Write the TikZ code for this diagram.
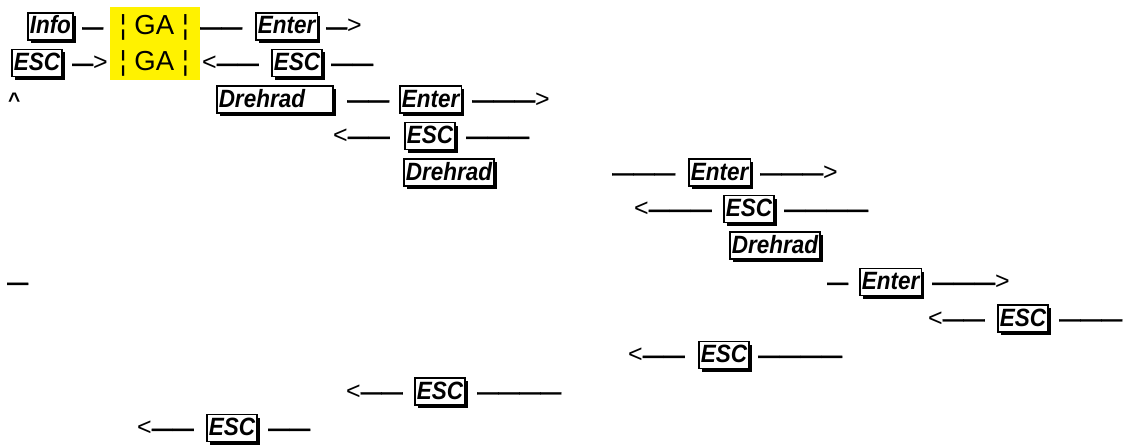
\documentclass[tikz,border=0pt]{standalone}
\usepackage{fontspec}
\setmainfont{Liberation Sans}
\newfontfamily\keyfont[FakeStretch=0.9]{Liberation Sans}
\newfontfamily\dashfont[FakeBold=1.5]{Liberation Sans Bold}
\newcommand\gtsym{{\fontsize{25}{28}\selectfont >}}
\newcommand\ltsym{{\fontsize{25}{28}\selectfont <}}
\usetikzlibrary{shadows}
\begin{document}
\begin{tikzpicture}[x=1pt,y=-1pt,
  keybox/.style={draw, line width=1.5pt, fill=white,
    font=\fontsize{25}{28}\keyfont\bfseries\itshape,
    inner xsep=2pt, inner ysep=2pt, text height=19pt, text depth=4pt,
    anchor=base west,
    drop shadow={shadow xshift=3pt, shadow yshift=-3pt, fill=black, opacity=1}},
  dashtxt/.style={font=\fontsize{21}{24}\selectfont, inner sep=0pt, anchor=base west},
  gatxt/.style={font=\fontsize{27.5}{30}\selectfont, inner sep=0pt, anchor=base west}]
\useasboundingbox (0,0) rectangle (1131,444);
% yellow GA block
\node[fill=yellow, minimum width=90pt, minimum height=73pt, inner sep=0pt, anchor=north west] (gabox) at (110,7) {};
\node[gatxt] (ga1) at (119.5,35) {¦ GA ¦};
\node[gatxt] (ga2) at (119.5,70.5) {¦ GA ¦};
% row 1
\node[keybox] (info) at (27,34) {Info};
\node[dashtxt] (d1a) at (82,34) {\dashfont —};
\node[dashtxt] (d1b) at (200,34) {\dashfont ——};
\node[keybox] (enter1) at (255,34) {Enter};
\node[dashtxt] (d1c) at (326,34) {{\dashfont —}\gtsym};
% row 2
\node[keybox] (esc1) at (11,70.5) {ESC};
\node[dashtxt] (d2a) at (72,70.5) {{\dashfont —}\gtsym};
\node[dashtxt] (d2b) at (202,70.5) {\ltsym{\dashfont ——}};
\node[keybox] (esc2) at (271,70.5) {ESC};
\node[dashtxt] (d2c) at (331,70.5) {\dashfont ——};
% row 3
\node[dashtxt] (caret) at (8,107) {\bfseries\textasciicircum};
\node[keybox, text width=112pt, align=left] (dreh1) at (216,107) {Drehrad};
\node[dashtxt] (d3a) at (347,107) {\dashfont ——};
\node[keybox] (enter2) at (399,107) {Enter};
\node[dashtxt] (d3b) at (472,107) {{\dashfont ———}\gtsym};
% row 4
\node[dashtxt] (d4a) at (333,143.5) {\ltsym{\dashfont ——}};
\node[keybox] (esc3) at (404,143.5) {ESC};
\node[dashtxt] (d4b) at (466,143.5) {\dashfont ———};
% row 5
\node[keybox] (dreh2) at (403,180) {Drehrad};
\node[dashtxt] (d5a) at (612,180) {\dashfont ———};
\node[keybox] (enter3) at (688,180) {Enter};
\node[dashtxt] (d5b) at (760,180) {{\dashfont ———}\gtsym};
% row 6
\node[dashtxt] (d6a) at (634,216.5) {\ltsym{\dashfont ———}};
\node[keybox] (esc4) at (723,216.5) {ESC};
\node[dashtxt] (d6b) at (784,216.5) {\dashfont ————};
% row 7
\node[keybox] (dreh3) at (729,253) {Drehrad};
% row 8
\node[dashtxt] (d8a) at (7,289.5) {\dashfont —};
\node[dashtxt] (d8b) at (827,289.5) {\dashfont —};
\node[keybox] (enter4) at (859,289.5) {Enter};
\node[dashtxt] (d8c) at (932,289.5) {{\dashfont ———}\gtsym};
% row 9
\node[dashtxt] (d9a) at (928,326) {\ltsym{\dashfont ——}};
\node[keybox] (esc5) at (997,326) {ESC};
\node[dashtxt] (d9b) at (1059,326) {\dashfont ———};
% row 10
\node[dashtxt] (d10a) at (628,362.5) {\ltsym{\dashfont ——}};
\node[keybox] (esc6) at (698,362.5) {ESC};
\node[dashtxt] (d10b) at (758,362.5) {\dashfont ————};
% row 11
\node[dashtxt] (d11a) at (346,399) {\ltsym{\dashfont ——}};
\node[keybox] (esc7) at (414,399) {ESC};
\node[dashtxt] (d11b) at (477,399) {\dashfont ————};
% row 12
\node[dashtxt] (d12a) at (137,435.5) {\ltsym{\dashfont ——}};
\node[keybox] (esc8) at (206,435.5) {ESC};
\node[dashtxt] (d12b) at (268,435.5) {\dashfont ——};
\end{tikzpicture}
\end{document}
